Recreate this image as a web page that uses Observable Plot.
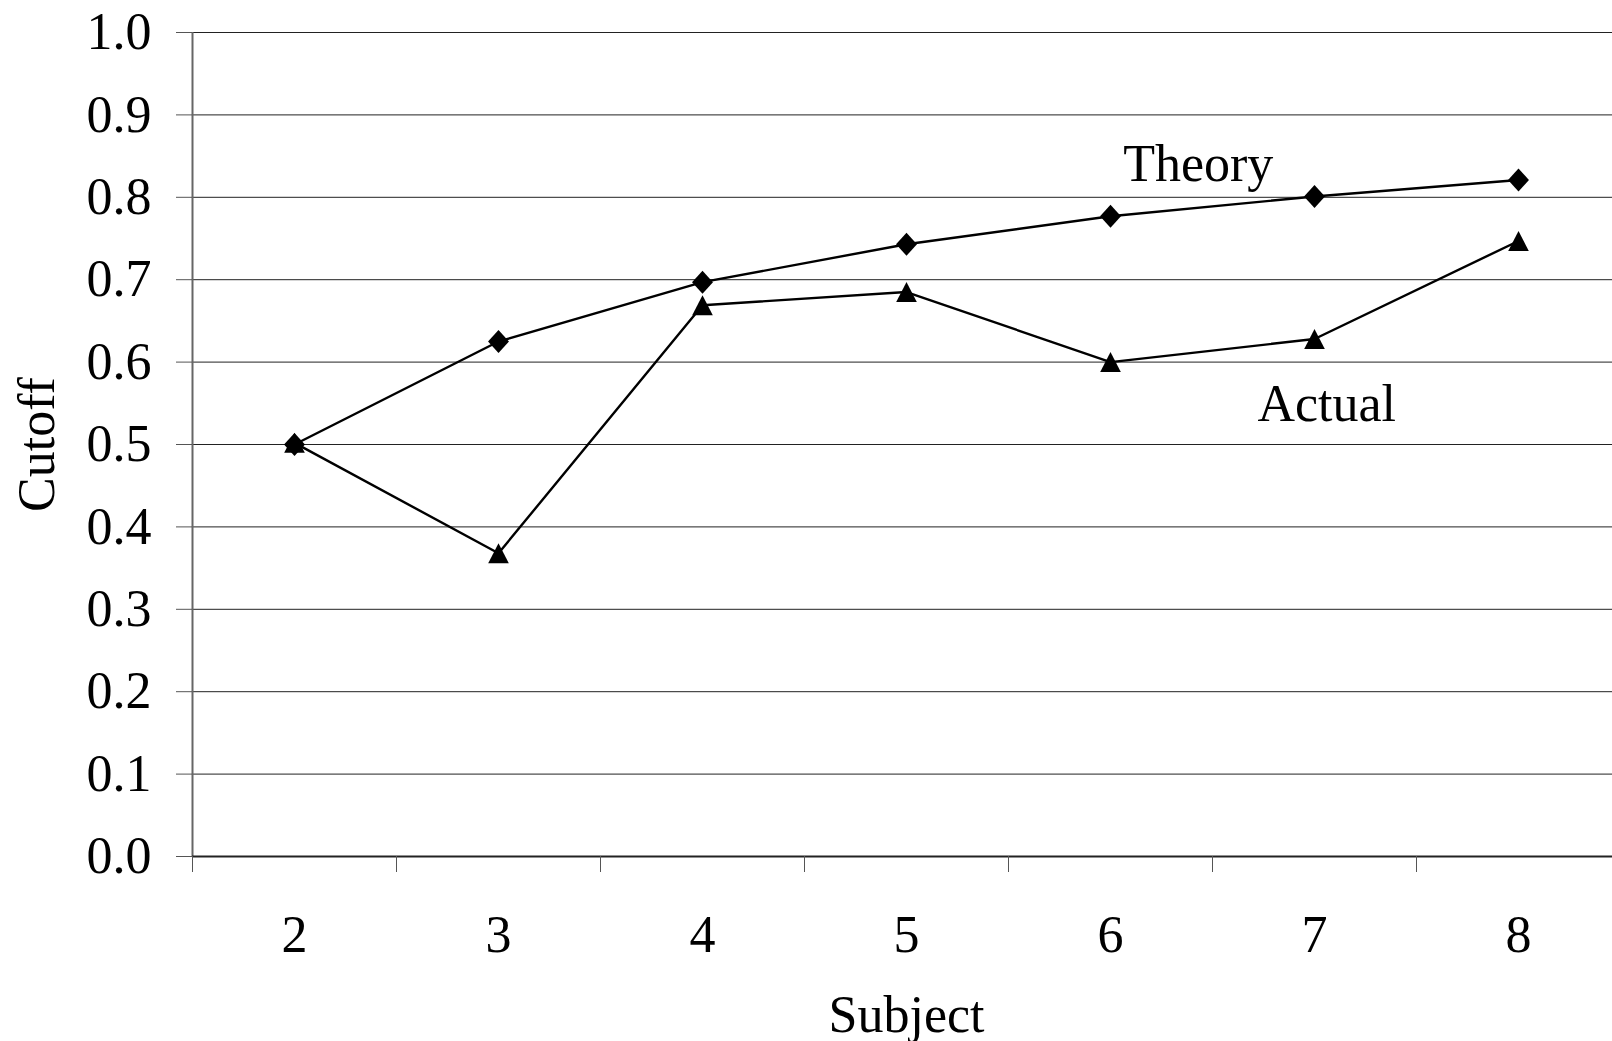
<!DOCTYPE html>
<html><head><meta charset="utf-8">
<script src="https://cdn.jsdelivr.net/npm/d3@7"></script>
<script src="https://cdn.jsdelivr.net/npm/@observablehq/plot@0.6"></script>
<style>html,body{margin:0;padding:0;background:#fff;overflow:hidden}</style>
</head><body><div id="chart"></div>
<script>
const subjects = [2, 3, 4, 5, 6, 7, 8];
const theory = [0.500, 0.625, 0.697, 0.743, 0.777, 0.801, 0.821];
const actual = [0.502, 0.368, 0.669, 0.685, 0.600, 0.628, 0.747];
const yTicks = [0, 0.1, 0.2, 0.3, 0.4, 0.5, 0.6, 0.7, 0.8, 0.9, 1.0];
const xBoundaries = [1.5, 2.5, 3.5, 4.5, 5.5, 6.5, 7.5, 8.5];
const labelNames = ["Theory", "Actual"];
const labelSubject = [6.43, 7.06];
const labelValue = [0.82, 0.528];

const theoryData = subjects.map((s, i) => ({subject: s, value: theory[i]}));
const actualData = subjects.map((s, i) => ({subject: s, value: actual[i]}));
const labelData = labelNames.map((t, i) => ({text: t, subject: labelSubject[i], value: labelValue[i]}));

// Excel-like marker shapes, centred on their bounding box
const diamondSymbol = {
  draw(context, size) {
    const r = Math.sqrt(size / Math.PI), w = r * 0.91;
    context.moveTo(0, -r); context.lineTo(w, 0); context.lineTo(0, r); context.lineTo(-w, 0); context.closePath();
  }
};
const triangleSymbol = {
  draw(context, size) {
    const r = Math.sqrt(size / Math.PI), w = r * 1.03;
    context.moveTo(0, -r); context.lineTo(w, r); context.lineTo(-w, r); context.closePath();
  }
};

const chart = Plot.plot({
  width: 1612,
  height: 1041,
  marginLeft: 192,
  marginRight: -8,
  marginTop: 32,
  marginBottom: 185,
  style: {fontFamily: "'Liberation Serif', 'Times New Roman', serif", background: "#fff", color: "#000"},
  x: {type: "linear", domain: [xBoundaries[0], xBoundaries[xBoundaries.length - 1]]},
  y: {domain: [0, 1]},
  marks: [
    Plot.ruleY(yTicks.slice(1), {stroke: "#222", strokeWidth: 1}),
    Plot.ruleX([xBoundaries[0]], {y1: 0, y2: 1, stroke: "#666", strokeWidth: 2}),
    Plot.ruleY([0], {stroke: "#222", strokeWidth: 2}),
    Plot.axisY({ticks: yTicks, tickFormat: d3.format(".1f"), tickSize: 16, tickPadding: 25, fontSize: 52, stroke: "#555",
      label: "Cutoff", labelAnchor: "center", labelOffset: 175, labelArrow: false}),
    Plot.axisX({ticks: xBoundaries, tickSize: 16, tickFormat: () => "", stroke: "#555", label: null}),
    Plot.axisX({ticks: subjects, tickSize: 0, tickPadding: 59, fontSize: 52, tickFormat: d3.format("d"),
      label: "Subject", labelAnchor: "center", labelOffset: 175, labelArrow: false}),
    Plot.line(theoryData, {x: "subject", y: "value", stroke: "#000", strokeWidth: 2.4}),
    Plot.line(actualData, {x: "subject", y: "value", stroke: "#000", strokeWidth: 2.4}),
    Plot.dot(theoryData, {x: "subject", y: "value", symbol: diamondSymbol, r: 11.5, fill: "#000", stroke: "none"}),
    Plot.dot(actualData, {x: "subject", y: "value", symbol: triangleSymbol, r: 10, fill: "#000", stroke: "none"}),
    Plot.text(labelData, {x: "subject", y: "value", text: "text", fontSize: 52, textAnchor: "middle", lineAnchor: "bottom", fill: "#000"})
  ]
});
document.getElementById("chart").appendChild(chart);
</script>
</body></html>
